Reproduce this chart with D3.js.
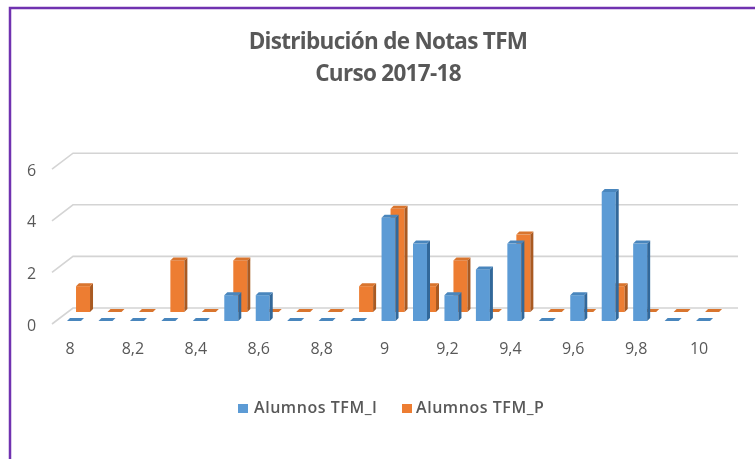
<!DOCTYPE html>
<html>
<head>
<meta charset="utf-8">
<script src="https://cdn.jsdelivr.net/npm/d3@7"></script>
<style>
  html, body { margin: 0; padding: 0; background: #fff; }
  svg { display: block; font-family: "Open Sans", sans-serif; }
</style>
</head>
<body>
<div id="chart"></div>
<script>
// Data
const categories = ["8", "8,1", "8,2", "8,3", "8,4", "8,5", "8,6", "8,7", "8,8", "8,9", "9",
    "9,1", "9,2", "9,3", "9,4", "9,5", "9,6", "9,7", "9,8", "9,9", "10"];
const tickLabels = ["8", "8,2", "8,4", "8,6", "8,8", "9", "9,2", "9,4", "9,6", "9,8", "10"];
const yTicks = [0, 2, 4, 6];
const alumnosI = [0, 0, 0, 0, 0, 1, 1, 0, 0, 0, 4, 3, 1, 2, 3, 0, 1, 5, 3, 0, 0];
const alumnosP = [1, 0, 0, 2, 0, 2, 0, 0, 0, 1, 4, 1, 2, 0, 3, 0, 0, 1, 0, 0, 0];
const titleLines = ["Distribución de Notas TFM", "Curso 2017-18"];

const width = 755, height = 459;
const floorY = 321;       // front of the blue bars
const unit = 25.8;        // px per alumno
const barW = 14, sideW = 3, capH = 3;

const svg = d3.select("#chart").append("svg")
    .attr("width", width)
    .attr("height", height);

// Slight softness of the original screenshot
svg.append("defs").append("filter").attr("id", "soft")
    .append("feGaussianBlur").attr("stdDeviation", 0.6);

const root = svg.append("g").attr("filter", "url(#soft)");

// Purple frame, open on the right and bottom
root.append("path")
    .attr("d", "M10,459V8H755")
    .attr("fill", "none")
    .attr("stroke", "#7030b0")
    .attr("stroke-width", 2.5);

// Scales
const x = d3.scaleBand().domain(categories).range([54.3, 714.8]);
const y = d3.scaleLinear().domain([0, 6]).range([floorY + 3, floorY + 3 - 6 * unit]);

// Gridlines: short diagonal on the side wall, then the back wall
const wallX0 = 52, wallX1 = 73, wallX2 = 738, wallDy = 16;
const grid = root.append("g").attr("fill", "none").attr("stroke", "#d4d4d4").attr("stroke-width", 1.6);
yTicks.forEach(t => {
    const py = y(t);
    grid.append("path").attr("d", `M${wallX0},${py}L${wallX1},${py - wallDy}L${wallX2},${py - wallDy}`);
});

// Y labels
root.append("g").selectAll("text").data(yTicks).join("text")
    .attr("x", 31.5)
    .attr("y", d => y(d) + 6.5)
    .attr("text-anchor", "middle")
    .attr("fill", "#595959")
    .style("font-size", "16px")
    .text(d => d);

// X labels
root.append("g").selectAll("text").data(tickLabels).join("text")
    .attr("x", d => x(d) + x.bandwidth() / 2)
    .attr("y", 354)
    .attr("text-anchor", "middle")
    .attr("fill", "#595959")
    .style("font-size", "16px")
    .text(d => d);

// Draw one series of 3D bars
function drawBars(values, dx, dy, front, side, top) {
    const g = root.append("g");
    values.forEach((v, i) => {
        const x0 = x(categories[i]) + x.bandwidth() / 2 + dx - barW / 2;
        const x1 = x0 + barW;
        const yB = floorY - dy;
        const yT = yB - (y(0) - y(v));
        if (v > 0) {
            g.append("rect").attr("x", x0).attr("y", yT).attr("width", barW).attr("height", yB - yT).attr("fill", front);
            g.append("path").attr("d", `M${x1},${yT}L${x1 + sideW},${yT - capH}V${yB - capH}L${x1},${yB}Z`).attr("fill", side);
        }
        g.append("path").attr("d", `M${x0},${yT}L${x0 + sideW},${yT - capH}H${x1 + sideW}L${x1},${yT}Z`).attr("fill", top);
    });
}

drawBars(alumnosP, 13, 9, "#ed7d31", "#a95a24", "#d9752f");
drawBars(alumnosI, 4, 0, "#5b9bd5", "#31689a", "#4a86bd");

// Title
root.append("g").selectAll("text").data(titleLines).join("text")
    .attr("x", 388)
    .attr("y", (d, i) => 48.5 + i * 32)
    .attr("text-anchor", "middle")
    .attr("fill", "#595959")
    .style("font-size", "22.5px")
    .style("font-weight", "bold")
    .style("letter-spacing", "-0.7px")
    .text(d => d);

// Legend
const legendItems = [
    { label: "Alumnos TFM_I", color: "#5b9bd5", x: 238, gap: 16 },
    { label: "Alumnos TFM_P", color: "#ed7d31", x: 402, gap: 14 }
];
const legend = root.append("g");
legendItems.forEach(d => {
    legend.append("rect").attr("x", d.x).attr("y", 404).attr("width", 10).attr("height", 9).attr("fill", d.color);
    legend.append("text")
        .attr("x", d.x + d.gap)
        .attr("y", 413)
        .attr("fill", "#595959")
        .style("font-size", "16px")
        .style("font-weight", "600")
        .style("letter-spacing", "0.55px")
        .text(d.label);
});
</script>
</body>
</html>
